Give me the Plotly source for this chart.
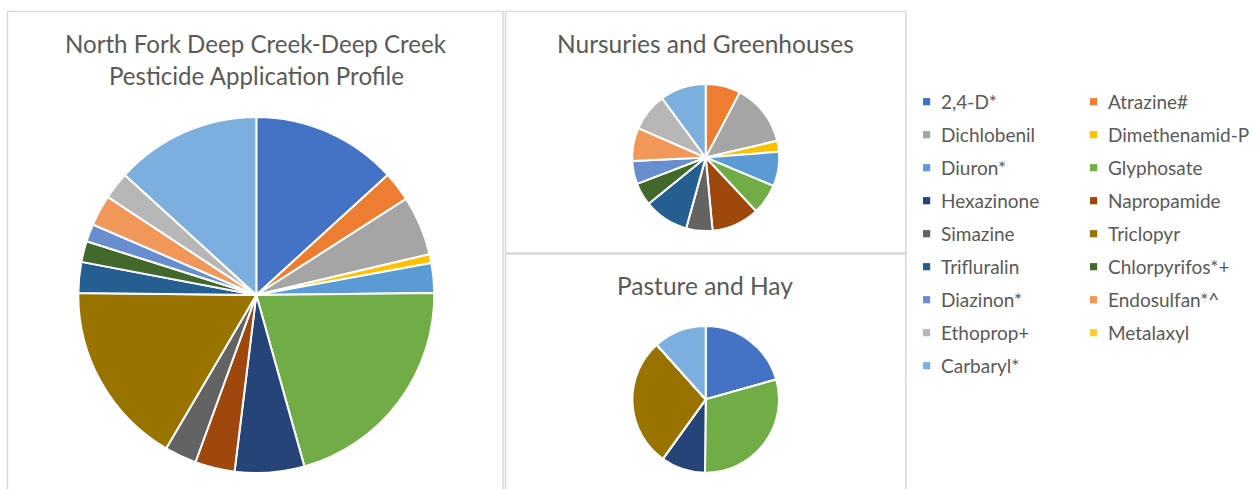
import plotly.graph_objects as go

W, H = 1258, 489

pesticides = ["2,4-D*", "Atrazine#", "Dichlobenil", "Dimethenamid-P", "Diuron*",
              "Glyphosate", "Hexazinone", "Napropamide", "Simazine", "Triclopyr",
              "Trifluralin", "Chlorpyrifos*+", "Diazinon*", "Endosulfan*^",
              "Ethoprop+", "Metalaxyl", "Carbaryl*"]

slice_colors = ["#4472C4", "#ED7D31", "#A5A5A5", "#FFC000", "#5B9BD5", "#70AD47",
                "#264478", "#9E480E", "#636363", "#997300", "#255E91", "#43682B",
                "#698ED0", "#F1975A", "#B7B7B7", "#FFCD33", "#7CAFDD"]

# Share of pesticide applications (%)
watershed_pct = [13.2, 2.7, 5.4, 0.8, 2.7, 20.8, 6.3, 3.6, 2.9, 16.7,
                 2.8, 1.9, 1.6, 2.8, 2.5, 0.0, 13.2]
nursery_pct = [0.0, 7.7, 13.7, 2.4, 7.6, 6.7, 0.0, 10.5, 5.8, 0.0,
               9.9, 5.0, 5.1, 7.3, 8.4, 0.0, 10.1]
pasture_pct = [20.6, 0.0, 0.0, 0.0, 0.0, 29.5, 9.8, 0.0, 0.0, 28.4,
               0.0, 0.0, 0.0, 0.0, 0.0, 0.0, 11.6]

titles = ["North Fork Deep Creek-Deep Creek", "Pesticide Application Profile",
          "Nursuries and Greenhouses", "Pasture and Hay"]

TEXT = "#595959"
BORDER = "#D9D9D9"
FONT = "Lato"


def fx(x):
    return x / W


def fy(y):
    return 1 - y / H


def domain(cx, cy, r):
    return dict(x=[fx(cx - r), fx(cx + r)], y=[fy(cy + r), fy(cy - r)])


def pie(values, dom, name):
    return go.Pie(
        labels=pesticides, values=values, name=name,
        marker=dict(colors=slice_colors, line=dict(color="white", width=2)),
        sort=False, direction="clockwise", rotation=0,
        textinfo="none", hoverinfo="label+percent",
        domain=dom, showlegend=False,
    )


fig = go.Figure()
fig.add_trace(pie(watershed_pct, domain(256.3, 295.0, 178.0), "Watershed"))
fig.add_trace(pie(nursery_pct, domain(705.7, 157.5, 73.5), "Nurseries"))
fig.add_trace(pie(pasture_pct, domain(705.7, 399.4, 73.3), "Pasture"))

shapes = []
# chart frames
for x0, y0, x1, y1 in [(7.5, 11.5, 503.0, 495.0),
                       (505.5, 11.5, 905.8, 253.0),
                       (505.5, 254.0, 905.8, 495.0)]:
    shapes.append(dict(type="rect", xref="paper", yref="paper",
                       x0=fx(x0), x1=fx(x1), y0=fy(y1), y1=fy(y0),
                       line=dict(color=BORDER, width=1.5), fillcolor="rgba(0,0,0,0)"))

annotations = []
for text, x, y, size in [(titles[0], 256.0, 43.0, 24.1), (titles[1], 256.0, 75.5, 24.1),
                         (titles[2], 705.0, 43.0, 24.5), (titles[3], 705.0, 285.0, 24.5)]:
    annotations.append(dict(text=text, x=fx(x), y=fy(y), xref="paper", yref="paper",
                            xanchor="center", yanchor="middle", showarrow=False,
                            font=dict(family=FONT, size=size, color=TEXT)))

# two-column legend
col_x = [923.0, 1090.0]
row_y0, row_step, sq = 101.7, 33.0, 7.2
for i, (label, color) in enumerate(zip(pesticides, slice_colors)):
    cx = col_x[i % 2]
    cy = row_y0 + row_step * (i // 2)
    shapes.append(dict(type="rect", xref="paper", yref="paper",
                       x0=fx(cx), x1=fx(cx + sq), y0=fy(cy + sq / 2), y1=fy(cy - sq / 2),
                       line=dict(width=0), fillcolor=color))
    annotations.append(dict(text=label, x=fx(cx + 15.5), y=fy(cy), xref="paper", yref="paper",
                            xanchor="left", yanchor="middle", showarrow=False,
                            font=dict(family=FONT, size=19, color=TEXT)))

fig.update_layout(
    width=W, height=H,
    margin=dict(l=0, r=0, t=0, b=0),
    paper_bgcolor="white", plot_bgcolor="white",
    shapes=shapes, annotations=annotations,
)

fig.write_html("out.html")
